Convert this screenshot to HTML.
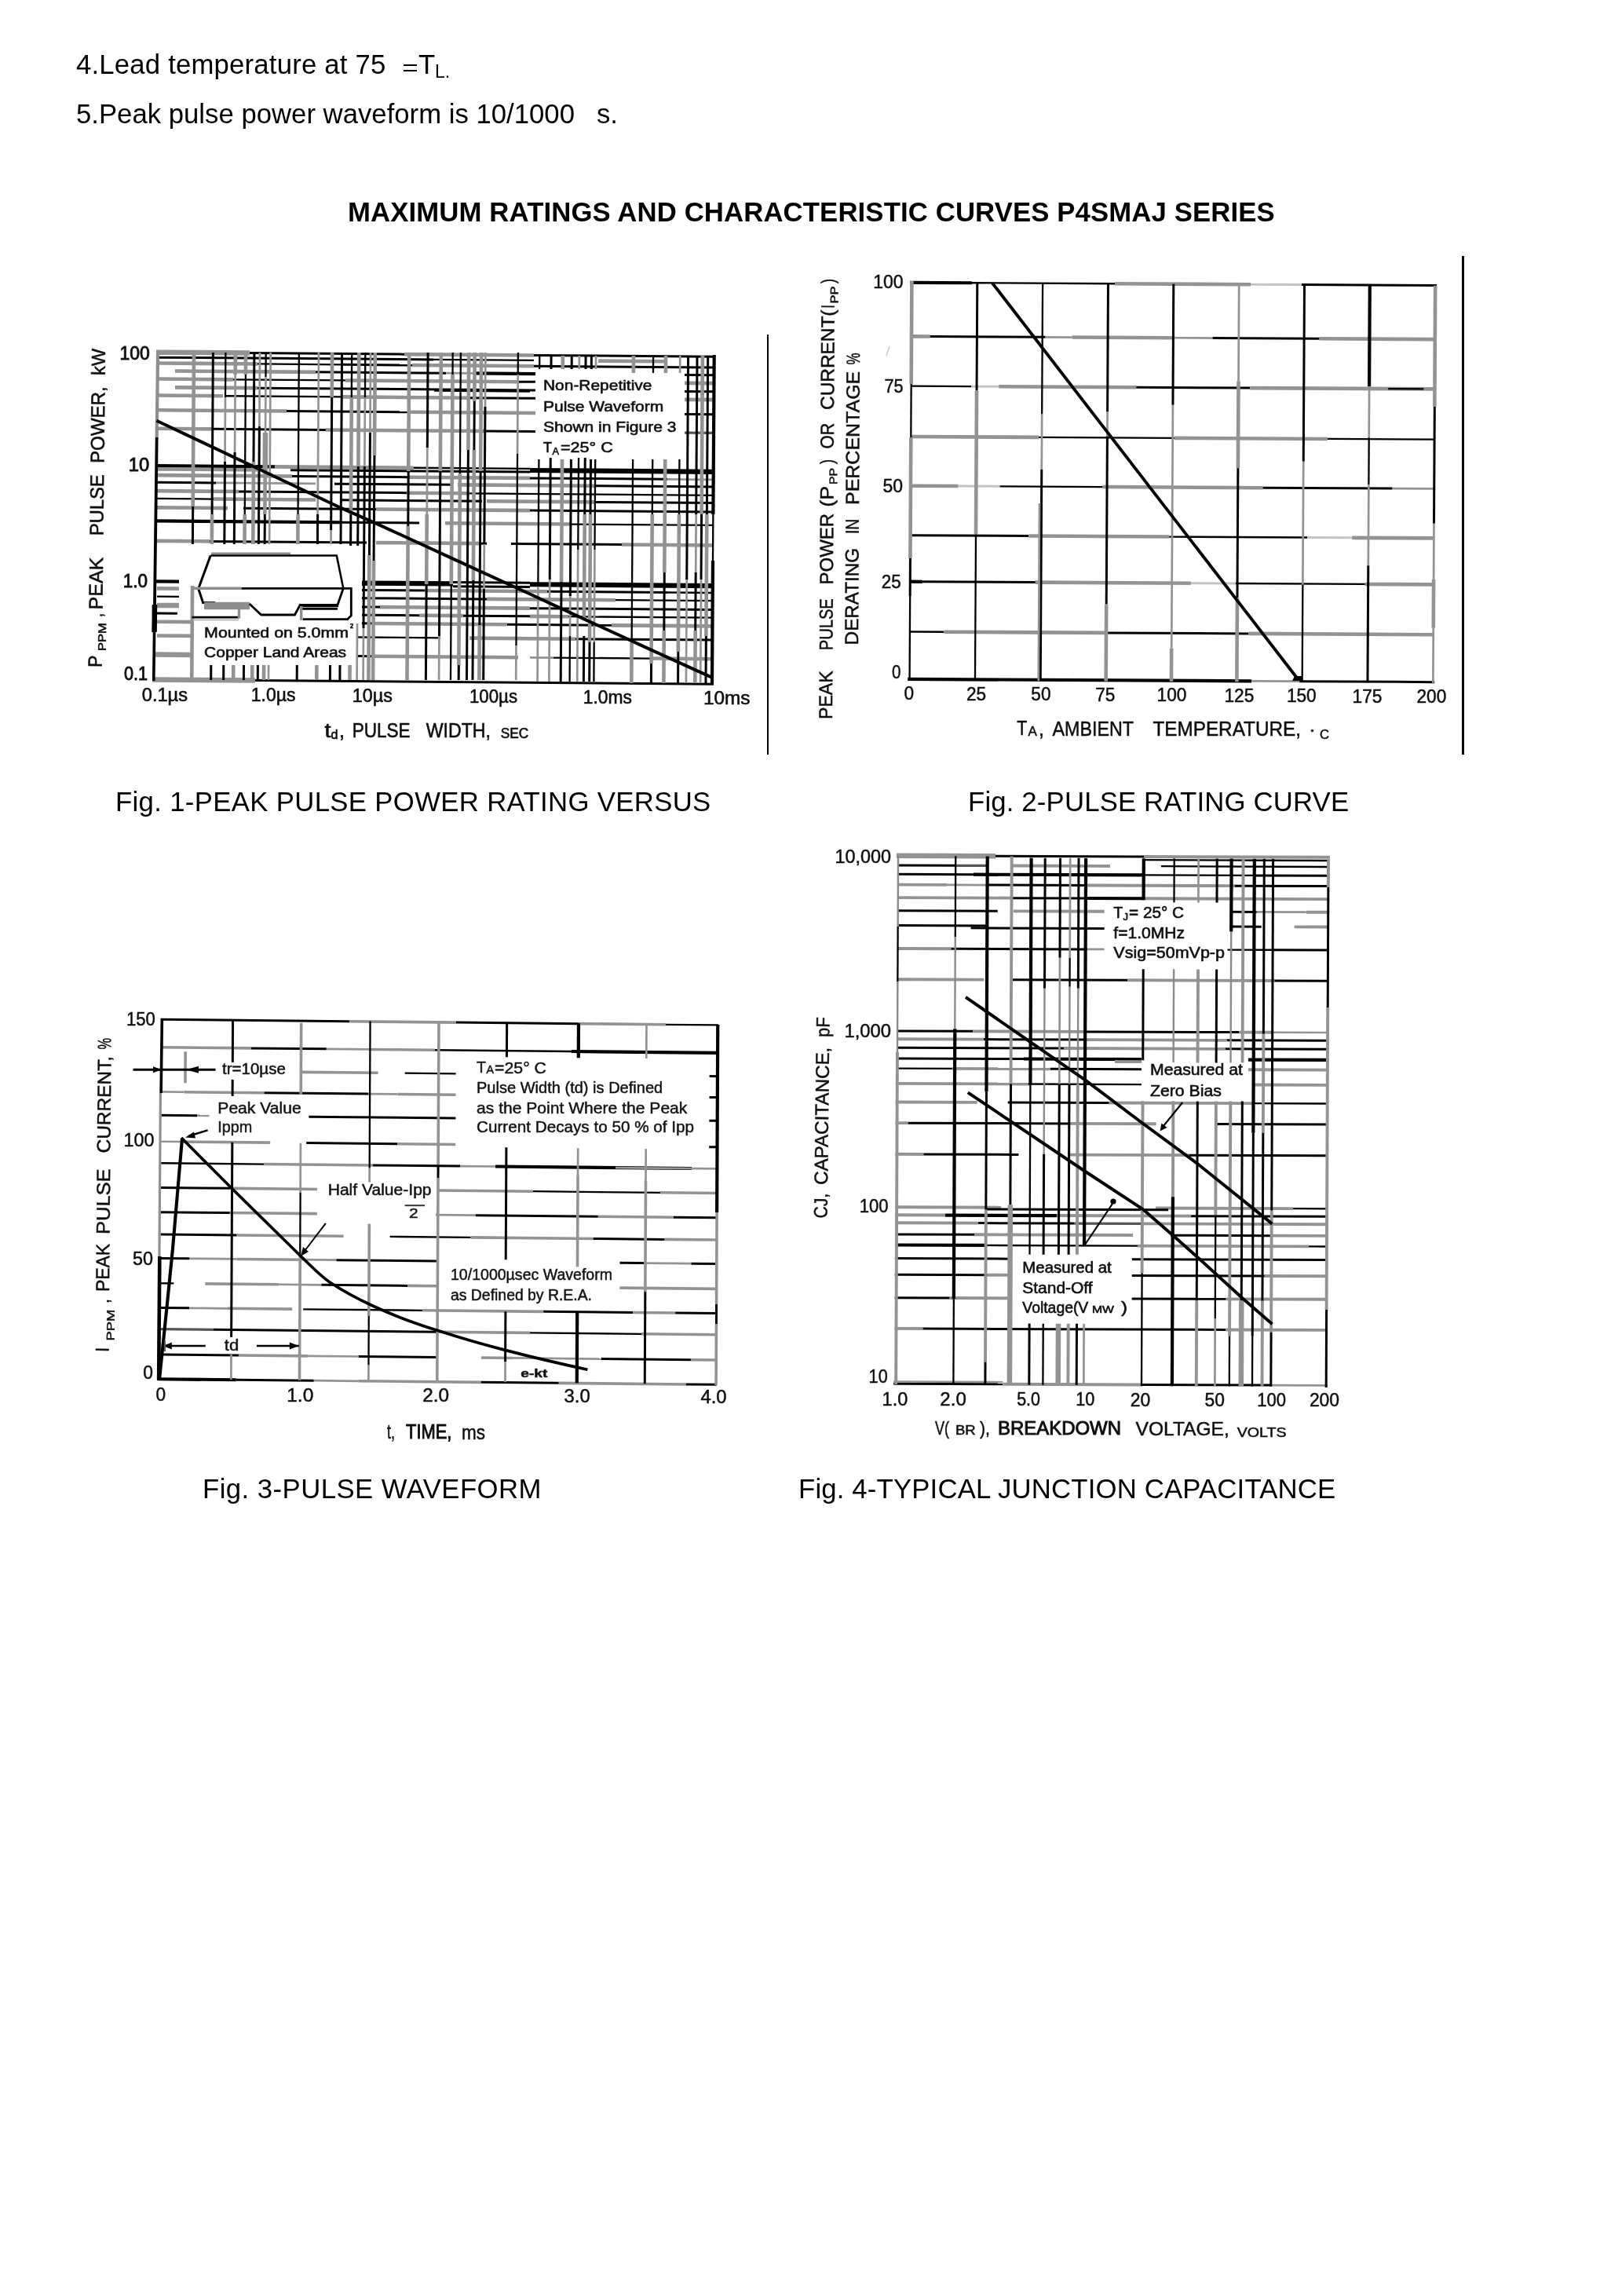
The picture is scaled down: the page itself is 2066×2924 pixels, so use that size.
<!DOCTYPE html>
<html>
<head>
<meta charset="utf-8">
<title>P4SMAJ Series - Ratings and Characteristic Curves</title>
<style>
html,body{margin:0;padding:0;background:#fff;}
body{width:2066px;height:2924px;position:relative;overflow:hidden;font-family:"Liberation Sans",sans-serif;color:#000;}
.t{position:absolute;white-space:pre;font-size:34.72px;line-height:40px;height:40px;filter:grayscale(1);}
.vl{position:absolute;background:#000;}
svg{position:absolute;left:0;top:0;overflow:visible;}
svg text{font-family:"Liberation Sans",sans-serif;fill:#111;}
</style>
</head>
<body>
<svg width="0" height="0" style="position:absolute"><defs><filter id="bt" x="-2%" y="-2%" width="104%" height="104%"><feGaussianBlur stdDeviation="0.75"/></filter></defs></svg>
<!-- notes -->
<div class="t" id="n4" style="left:97px;top:62px;letter-spacing:0.19px;">4.Lead temperature at 75</div>
<div class="t" id="n4t" style="left:533px;top:62px;">T</div>
<div class="t" id="n4l" style="left:554px;top:78px;font-size:23px;line-height:26px;height:26px;">L.</div>
<div class="vl" style="left:514px;top:82px;width:17px;height:2px;"></div>
<div class="vl" style="left:514px;top:89px;width:17px;height:2px;"></div>
<div class="t" id="n5" style="left:97px;top:125px;">5.Peak pulse power waveform is 10/1000</div>
<div class="t" id="n5s" style="left:760px;top:125px;">s.</div>
<!-- title -->
<div class="t" id="ttl" style="left:443px;top:250px;font-weight:bold;letter-spacing:0.12px;">MAXIMUM RATINGS AND CHARACTERISTIC CURVES P4SMAJ SERIES</div>
<!-- separators -->
<div class="vl" style="left:977px;top:426px;width:2px;height:535px;"></div>
<div class="vl" style="left:1862px;top:326px;width:3px;height:635px;"></div>
<!-- captions -->
<div class="t" id="c1" style="left:147px;top:1001px;letter-spacing:0.34px;">Fig. 1-PEAK PULSE POWER RATING VERSUS</div>
<div class="t" id="c2" style="left:1233px;top:1000.5px;letter-spacing:0.17px;">Fig. 2-PULSE RATING CURVE</div>
<div class="t" id="c3" style="left:258px;top:1876px;letter-spacing:0.45px;">Fig. 3-PULSE WAVEFORM</div>
<div class="t" id="c4" style="left:1017px;top:1876px;letter-spacing:0.17px;">Fig. 4-TYPICAL JUNCTION CAPACITANCE</div>

<!--FIG1-->
<svg width="2066" height="2924" viewBox="0 0 2066 2924" fill="none" stroke-linecap="butt"><g><g transform="matrix(1 0.0079 -0.0065 1 5.6 -1.5)"><path d="M196.3 448.6H315.3" stroke="#939393" stroke-width="6.5"/><path d="M315.3 448.6H512.3" stroke="#000" stroke-width="3"/><path d="M512.3 448.6H677.3" stroke="#939393" stroke-width="4.6"/><path d="M677.3 448.6H908.3" stroke="#000" stroke-width="3"/><path d="M196.3 455.1H549.3" stroke="#000" stroke-width="3"/><path d="M549.4 455.1H677.4" stroke="#000" stroke-width="2.3"/><path d="M759.4 455.1H844.4" stroke="#939393" stroke-width="4.6"/><path d="M198.4 462.4H325.4" stroke="#939393" stroke-width="4.6"/><path d="M325.4 462.4H432.4" stroke="#000" stroke-width="2.3"/><path d="M432.4 462.4H522.4" stroke="#000" stroke-width="3"/><path d="M522.4 462.4H677.4" stroke="#939393" stroke-width="4.6"/><path d="M677.4 462.4H907.4" stroke="#000" stroke-width="3"/><path d="M220.4 472.2H399.4" stroke="#939393" stroke-width="4.6"/><path d="M399.5 472.2H565.5" stroke="#000" stroke-width="3"/><path d="M565.5 472.2H601.5" stroke="#939393" stroke-width="2.7"/><path d="M601.5 472.2H679.5" stroke="#000" stroke-width="4.2"/><path d="M869.5 472.2H907.5" stroke="#000" stroke-width="3"/><path d="M198.5 482.5H294.5" stroke="#939393" stroke-width="4.6"/><path d="M294.5 482.5H437.5" stroke="#000" stroke-width="2.3"/><path d="M437.5 482.5H657.5" stroke="#939393" stroke-width="4.6"/><path d="M657.5 482.5H679.5" stroke="#000" stroke-width="3"/><path d="M869.5 482.5H907.5" stroke="#939393" stroke-width="4.6"/><path d="M220.6 493.1H325.6" stroke="#939393" stroke-width="4.6"/><path d="M325.6 493.1H679.6" stroke="#000" stroke-width="3"/><path d="M869.6 493.1H907.6" stroke="#000" stroke-width="3"/><path d="M550.6 494.8H672.6" stroke="#000" stroke-width="2.3"/><path d="M198.6 503.5H281.6" stroke="#939393" stroke-width="4.6"/><path d="M284.7 503.5H432.7" stroke="#000" stroke-width="2.3"/><path d="M432.7 503.5H595.7" stroke="#939393" stroke-width="4.6"/><path d="M593.7 503.5H679.7" stroke="#000" stroke-width="3"/><path d="M869.7 503.5H907.7" stroke="#939393" stroke-width="4.6"/><path d="M198.8 522.2H362.8" stroke="#939393" stroke-width="4.6"/><path d="M362.8 522.2H519.8" stroke="#000" stroke-width="3"/><path d="M519.8 522.2H679.8" stroke="#939393" stroke-width="4.6"/><path d="M869.8 522.2H907.8" stroke="#000" stroke-width="3"/><path d="M195.9 545.7H269.9" stroke="#939393" stroke-width="4.6"/><path d="M269.9 545.7H412.9" stroke="#000" stroke-width="3"/><path d="M412.9 545.7H615.9" stroke="#939393" stroke-width="4.6"/><path d="M615.9 545.7H679.9" stroke="#000" stroke-width="3"/><path d="M870 545.7H908" stroke="#555" stroke-width="3.2"/><path d="M197.2 593.1H348.2" stroke="#000" stroke-width="4.2"/><path d="M348.2 593.1H525.2" stroke="#939393" stroke-width="4.6"/><path d="M525.2 593.1H673.2" stroke="#000" stroke-width="2.3"/><path d="M198.3 597.3H326.3" stroke="#939393" stroke-width="4.6"/><path d="M368.3 597.3H673.3" stroke="#000" stroke-width="3"/><path d="M673.3 595.2H908.3" stroke="#000" stroke-width="6.2"/><path d="M198.3 605.1H370.3" stroke="#939393" stroke-width="4.6"/><path d="M370.3 605.1H519.3" stroke="#000" stroke-width="3"/><path d="M519.3 605.1H673.3" stroke="#939393" stroke-width="4.6"/><path d="M673.3 605.1H848.3" stroke="#000" stroke-width="3"/><path d="M848.3 605.1H908.3" stroke="#939393" stroke-width="2.7"/><path d="M198.4 614.3H273.4" stroke="#000" stroke-width="3"/><path d="M273.4 614.3H400.4" stroke="#939393" stroke-width="2.7"/><path d="M424.4 614.3H575.4" stroke="#000" stroke-width="3"/><path d="M581.4 614.3H756.4" stroke="#939393" stroke-width="4.6"/><path d="M756.4 614.3H908.4" stroke="#000" stroke-width="3"/><path d="M198.4 625.1H302.4" stroke="#939393" stroke-width="4.6"/><path d="M302.4 625.1H516.4" stroke="#000" stroke-width="3"/><path d="M516.5 625.1H596.5" stroke="#939393" stroke-width="4.6"/><path d="M596.5 625.1H908.5" stroke="#000" stroke-width="2.3"/><path d="M198.5 634.9H270.5" stroke="#000" stroke-width="2.3"/><path d="M270.5 634.9H400.5" stroke="#939393" stroke-width="4.6"/><path d="M433.5 634.9H612.5" stroke="#000" stroke-width="3"/><path d="M618.5 634.9H756.5" stroke="#939393" stroke-width="4.6"/><path d="M756.5 634.9H908.5" stroke="#000" stroke-width="3"/><path d="M198.6 646.3H288.6" stroke="#939393" stroke-width="4.6"/><path d="M308.6 646.3H477.6" stroke="#000" stroke-width="3"/><path d="M477.6 646.3H673.6" stroke="#939393" stroke-width="4.6"/><path d="M673.6 646.3H908.6" stroke="#000" stroke-width="3"/><path d="M197.7 663.3H433.7" stroke="#000" stroke-width="4.2"/><path d="M433.7 663.3H532.7" stroke="#000" stroke-width="3"/><path d="M565.7 663.3H725.7" stroke="#939393" stroke-width="4.6"/><path d="M725.7 663.3H907.7" stroke="#000" stroke-width="2.3"/><path d="M198.9 688.8H265.9" stroke="#939393" stroke-width="4.6"/><path d="M265.9 688.8H465.9" stroke="#000" stroke-width="3"/><path d="M477.9 688.8H611.9" stroke="#939393" stroke-width="4.6"/><path d="M611.9 688.8H618.9" stroke="#000" stroke-width="3"/><path d="M649.9 688.8H790.9" stroke="#000" stroke-width="3"/><path d="M790.9 688.8H907.9" stroke="#939393" stroke-width="4.6"/><path d="M198.2 740.4H227.2" stroke="#000" stroke-width="4.2"/><path d="M460.2 740.4H576.2" stroke="#000" stroke-width="6.2"/><path d="M674.2 740.4H908.2" stroke="#000" stroke-width="6.2"/><path d="M576.2 738.4H674.2" stroke="#000" stroke-width="3"/><path d="M576.2 743.6H674.2" stroke="#000" stroke-width="3"/><path d="M199.2 749.3H227.2" stroke="#939393" stroke-width="4.6"/><path d="M460.3 749.3H540.3" stroke="#000" stroke-width="3"/><path d="M540.3 749.3H696.3" stroke="#939393" stroke-width="4.6"/><path d="M696.3 749.3H849.3" stroke="#000" stroke-width="3"/><path d="M849.3 749.3H908.3" stroke="#000" stroke-width="2.3"/><path d="M199.3 759.5H227.3" stroke="#000" stroke-width="2.3"/><path d="M460.3 759.5H619.3" stroke="#000" stroke-width="3"/><path d="M619.3 759.5H783.3" stroke="#939393" stroke-width="4.6"/><path d="M783.3 759.5H908.3" stroke="#000" stroke-width="2.3"/><path d="M199.4 770.8H227.4" stroke="#939393" stroke-width="6.5"/><path d="M460.4 770.8H483.4" stroke="#000" stroke-width="3"/><path d="M483.4 770.8H674.4" stroke="#939393" stroke-width="4.6"/><path d="M674.4 770.8H908.4" stroke="#000" stroke-width="3"/><path d="M199.4 781H225.4" stroke="#000" stroke-width="3"/><path d="M460.5 781H533.5" stroke="#000" stroke-width="3"/><path d="M533.5 781H589.5" stroke="#939393" stroke-width="4.6"/><path d="M589.5 781H674.5" stroke="#000" stroke-width="3"/><path d="M674.5 781H723.5" stroke="#939393" stroke-width="4.6"/><path d="M723.5 781H908.5" stroke="#000" stroke-width="2.3"/><path d="M199.5 791.7H246.5" stroke="#939393" stroke-width="4.6"/><path d="M460.5 791.7H477.5" stroke="#000" stroke-width="3"/><path d="M477.5 791.7H645.5" stroke="#939393" stroke-width="4.6"/><path d="M645.5 791.7H778.5" stroke="#000" stroke-width="3"/><path d="M778.6 791.7H908.6" stroke="#939393" stroke-width="4.6"/><path d="M199.6 809.4H246.6" stroke="#939393" stroke-width="4.6"/><path d="M454.6 809.4H560.6" stroke="#000" stroke-width="2.3"/><path d="M597.7 809.4H732.7" stroke="#939393" stroke-width="4.6"/><path d="M732.7 809.4H908.7" stroke="#000" stroke-width="3"/><path d="M197.8 833.5H243.8" stroke="#939393" stroke-width="6.5"/><path d="M454.8 833.5H475.8" stroke="#000" stroke-width="3"/><path d="M475.8 833.5H659.8" stroke="#939393" stroke-width="4.6"/><path d="M674.8 833.5H704.8" stroke="#939393" stroke-width="2.7"/><path d="M704.8 833.5H829.8" stroke="#000" stroke-width="2.3"/><path d="M829.8 833.5H908.8" stroke="#939393" stroke-width="4.6"/><path d="M194 865.5H325" stroke="#939393" stroke-width="6.5"/><path d="M325 865.5H909" stroke="#000" stroke-width="3"/><path d="M244.3 448.6V644.6" stroke="#939393" stroke-width="4.6"/><path d="M244.3 644.6V692.6" stroke="#000" stroke-width="3"/><path d="M244.3 745.6V865.6" stroke="#939393" stroke-width="4.6"/><path d="M268.7 448.4V654.4" stroke="#000" stroke-width="3"/><path d="M268.7 654.4V692.4" stroke="#939393" stroke-width="4.6"/><path d="M268.7 846.4V865.4" stroke="#000" stroke-width="3"/><path d="M284.7 448.3V505.3" stroke="#000" stroke-width="2.3"/><path d="M284.7 505.3V587.3" stroke="#939393" stroke-width="2.7"/><path d="M284.7 587.3V692.3" stroke="#000" stroke-width="3"/><path d="M284.7 846.3V865.3" stroke="#000" stroke-width="3"/><path d="M297.2 448.2V476.2" stroke="#939393" stroke-width="4.6"/><path d="M297.2 476.2V575.2" stroke="#939393" stroke-width="2.7"/><path d="M297.2 575.2V692.2" stroke="#000" stroke-width="3"/><path d="M297.2 846.2V865.2" stroke="#939393" stroke-width="4.6"/><path d="M310.4 448.1V476.1" stroke="#939393" stroke-width="4.6"/><path d="M310.4 476.1V654.1" stroke="#000" stroke-width="2.3"/><path d="M310.4 654.1V692.1" stroke="#939393" stroke-width="4.6"/><path d="M310.4 846.1V865.1" stroke="#000" stroke-width="3"/><path d="M321.2 448V587" stroke="#000" stroke-width="3"/><path d="M321.2 587V692" stroke="#939393" stroke-width="4.6"/><path d="M321.2 846V865" stroke="#939393" stroke-width="4.6"/><path d="M328.3 448V542" stroke="#939393" stroke-width="2.7"/><path d="M328.3 542V692" stroke="#000" stroke-width="3"/><path d="M328.3 846V865" stroke="#000" stroke-width="3"/><path d="M336 447.9V478.9" stroke="#000" stroke-width="2.3"/><path d="M336 478.9V549.9" stroke="#939393" stroke-width="2.7"/><path d="M336 549.9V598.9" stroke="#939393" stroke-width="6.5"/><path d="M336 598.9V653.9" stroke="#939393" stroke-width="4.6"/><path d="M336 653.9V691.9" stroke="#000" stroke-width="3"/><path d="M336 845.9V864.9" stroke="#939393" stroke-width="4.6"/><path d="M342 447.8V691.8" stroke="#939393" stroke-width="2.7"/><path d="M342 845.8V864.8" stroke="#939393" stroke-width="2.7"/><path d="M378.2 447.6V653.6" stroke="#000" stroke-width="2.3"/><path d="M378.2 653.6V691.6" stroke="#939393" stroke-width="4.6"/><path d="M378.2 845.6V864.6" stroke="#000" stroke-width="3"/><path d="M403.3 447.4V653.4" stroke="#939393" stroke-width="2.7"/><path d="M403.3 653.4V691.4" stroke="#000" stroke-width="3"/><path d="M403.3 845.4V864.4" stroke="#939393" stroke-width="4.6"/><path d="M420.4 447.2V504.2" stroke="#939393" stroke-width="4.6"/><path d="M420.4 504.2V673.2" stroke="#000" stroke-width="3"/><path d="M420.4 673.2V691.2" stroke="#939393" stroke-width="2.7"/><path d="M420.4 845.2V864.2" stroke="#000" stroke-width="3"/><path d="M432.9 447.1V691.1" stroke="#000" stroke-width="3"/><path d="M432.9 845.1V864.1" stroke="#000" stroke-width="3"/><path d="M445.5 447V504" stroke="#000" stroke-width="2.3"/><path d="M445.5 504V653" stroke="#939393" stroke-width="4.6"/><path d="M445.5 653V693" stroke="#000" stroke-width="3"/><path d="M445.5 845V864" stroke="#939393" stroke-width="4.6"/><path d="M454.6 447V592" stroke="#939393" stroke-width="4.6"/><path d="M454.6 592V693" stroke="#000" stroke-width="3"/><path d="M454.6 792V864" stroke="#939393" stroke-width="2.7"/><path d="M462.6 446.9V503.9" stroke="#000" stroke-width="2.3"/><path d="M462.6 503.9V591.9" stroke="#939393" stroke-width="2.7"/><path d="M462.6 591.9V797.9" stroke="#000" stroke-width="3"/><path d="M462.6 797.9V863.9" stroke="#939393" stroke-width="2.7"/><path d="M469.4 446.8V548.8" stroke="#939393" stroke-width="2.7"/><path d="M469.4 548.8V704.8" stroke="#000" stroke-width="3"/><path d="M469.4 704.8V863.8" stroke="#939393" stroke-width="4.6"/><path d="M475.1 446.8V577.8" stroke="#939393" stroke-width="4.6"/><path d="M475.1 577.8V711.8" stroke="#000" stroke-width="3"/><path d="M475.1 711.8V863.8" stroke="#939393" stroke-width="4.6"/><path d="M518.5 446.4V597.4" stroke="#939393" stroke-width="4.6"/><path d="M518.5 597.4V667.4" stroke="#000" stroke-width="3"/><path d="M518.5 667.4V863.4" stroke="#939393" stroke-width="4.6"/><path d="M542.4 446.3V567.3" stroke="#000" stroke-width="3"/><path d="M542.4 567.3V652.3" stroke="#939393" stroke-width="2.7"/><path d="M542.4 652.3V741.3" stroke="#939393" stroke-width="4.6"/><path d="M542.4 741.3V863.3" stroke="#000" stroke-width="3"/><path d="M559.1 446.1V597.1" stroke="#939393" stroke-width="4.6"/><path d="M559.1 597.1V807.1" stroke="#000" stroke-width="3"/><path d="M559.1 807.1V863.1" stroke="#939393" stroke-width="2.7"/><path d="M574 446V474" stroke="#000" stroke-width="2.3"/><path d="M574 474V741" stroke="#939393" stroke-width="4.6"/><path d="M574 741V863" stroke="#000" stroke-width="2.3"/><path d="M584.2 445.9V599.9" stroke="#000" stroke-width="2.3"/><path d="M584.2 599.9V843.9" stroke="#939393" stroke-width="4.6"/><path d="M584.2 843.9V862.9" stroke="#000" stroke-width="3"/><path d="M594.5 445.8V569.8" stroke="#939393" stroke-width="4.6"/><path d="M594.5 569.8V862.8" stroke="#000" stroke-width="3"/><path d="M602 445.8V507.8" stroke="#939393" stroke-width="4.6"/><path d="M602 507.8V569.8" stroke="#000" stroke-width="3"/><path d="M602 569.8V735.8" stroke="#939393" stroke-width="4.6"/><path d="M602 735.8V862.8" stroke="#000" stroke-width="3"/><path d="M610.4 445.7V596.7" stroke="#939393" stroke-width="4.6"/><path d="M610.4 596.7V792.7" stroke="#000" stroke-width="3"/><path d="M610.4 792.7V862.7" stroke="#939393" stroke-width="4.6"/><path d="M615.7 445.7V514.7" stroke="#939393" stroke-width="2.7"/><path d="M615.7 514.7V689.7" stroke="#000" stroke-width="3"/><path d="M615.7 689.7V746.7" stroke="#939393" stroke-width="2.7"/><path d="M615.7 746.7V862.7" stroke="#000" stroke-width="3"/><path d="M657.2 445.4V473.4" stroke="#000" stroke-width="2.3"/><path d="M657.2 473.4V574.4" stroke="#939393" stroke-width="2.7"/><path d="M657.2 574.4V818.4" stroke="#000" stroke-width="2.3"/><path d="M657.2 818.4V862.4" stroke="#939393" stroke-width="2.7"/><path d="M684.6 449.1V466.1" stroke="#000" stroke-width="2.3"/><path d="M684.6 581.1V743.1" stroke="#000" stroke-width="2.3"/><path d="M684.6 743.1V864.1" stroke="#939393" stroke-width="2.7"/><path d="M699.4 449V466" stroke="#000" stroke-width="3"/><path d="M699.4 579V734" stroke="#000" stroke-width="3"/><path d="M699.4 734V864" stroke="#939393" stroke-width="2.7"/><path d="M714.2 448.9V465.9" stroke="#939393" stroke-width="4.6"/><path d="M714.2 580.9V736.9" stroke="#939393" stroke-width="4.6"/><path d="M714.2 736.9V863.9" stroke="#000" stroke-width="3"/><path d="M725.6 448.8V465.8" stroke="#000" stroke-width="3"/><path d="M725.6 580.8V754.8" stroke="#000" stroke-width="3"/><path d="M725.6 754.8V805.8" stroke="#939393" stroke-width="2.7"/><path d="M725.6 805.8V863.8" stroke="#000" stroke-width="2.3"/><path d="M735.2 448.7V465.7" stroke="#939393" stroke-width="2.7"/><path d="M735.2 578.7V695.7" stroke="#000" stroke-width="2.3"/><path d="M735.2 695.7V863.7" stroke="#939393" stroke-width="2.7"/><path d="M743.4 448.7V465.7" stroke="#000" stroke-width="3"/><path d="M743.4 578.7V650.7" stroke="#000" stroke-width="3"/><path d="M743.4 650.7V783.7" stroke="#939393" stroke-width="4.6"/><path d="M743.4 805.7V863.7" stroke="#000" stroke-width="3"/><path d="M750.7 448.6V465.6" stroke="#000" stroke-width="3"/><path d="M750.7 580.6V650.6" stroke="#000" stroke-width="3"/><path d="M750.7 650.6V813.6" stroke="#939393" stroke-width="4.6"/><path d="M750.7 813.6V863.6" stroke="#000" stroke-width="3"/><path d="M756.4 448.6V465.6" stroke="#939393" stroke-width="2.7"/><path d="M756.4 580.6V695.6" stroke="#000" stroke-width="2.3"/><path d="M756.4 695.6V813.6" stroke="#939393" stroke-width="2.7"/><path d="M756.4 813.6V863.6" stroke="#000" stroke-width="2.3"/><path d="M804.3 448.2V470.2" stroke="#939393" stroke-width="4.6"/><path d="M804.3 580.2V813.2" stroke="#000" stroke-width="2.3"/><path d="M804.3 813.2V865.2" stroke="#939393" stroke-width="4.6"/><path d="M829.4 448V470" stroke="#000" stroke-width="2.3"/><path d="M829.4 580V650" stroke="#000" stroke-width="2.3"/><path d="M829.4 650V840" stroke="#939393" stroke-width="4.6"/><path d="M829.4 840V865" stroke="#000" stroke-width="3"/><path d="M845.4 447.9V469.9" stroke="#939393" stroke-width="4.6"/><path d="M845.4 579.9V723.9" stroke="#939393" stroke-width="4.6"/><path d="M845.4 723.9V797.9" stroke="#000" stroke-width="3"/><path d="M845.4 797.9V864.9" stroke="#939393" stroke-width="4.6"/><path d="M863.6 447.7V469.7" stroke="#939393" stroke-width="2.7"/><path d="M863.6 579.7V649.7" stroke="#000" stroke-width="2.3"/><path d="M863.6 649.7V824.7" stroke="#939393" stroke-width="4.6"/><path d="M863.6 824.7V864.7" stroke="#000" stroke-width="3"/><path d="M873.9 447.6V732.6" stroke="#000" stroke-width="3"/><path d="M873.9 732.6V864.6" stroke="#939393" stroke-width="2.7"/><path d="M885.3 447.6V649.6" stroke="#000" stroke-width="3"/><path d="M885.3 649.6V723.6" stroke="#939393" stroke-width="2.7"/><path d="M885.3 723.6V797.6" stroke="#000" stroke-width="3"/><path d="M885.3 797.6V864.6" stroke="#939393" stroke-width="4.6"/><path d="M892.2 447.5V649.5" stroke="#939393" stroke-width="4.6"/><path d="M892.2 649.5V732.5" stroke="#000" stroke-width="3"/><path d="M892.2 732.5V864.5" stroke="#939393" stroke-width="2.7"/><path d="M899 447.4V649.4" stroke="#000" stroke-width="3"/><path d="M899 649.4V804.4" stroke="#939393" stroke-width="4.6"/><path d="M899 804.4V864.4" stroke="#000" stroke-width="3"/><path d="M907 446.4V649.4" stroke="#000" stroke-width="4.2"/><path d="M907 649.4V708.4" stroke="#000" stroke-width="2.3"/><path d="M907 708.4V866.4" stroke="#000" stroke-width="4.2"/><path d="M198.4 446L197.7 557" stroke="#8e8e8e" stroke-width="4.2"/><path d="M197.7 557L196.4 770" stroke="#000" stroke-width="3.8"/><path d="M196.4 770L196.2 805" stroke="#000" stroke-width="6.5"/><path d="M196.2 805L195.8 867" stroke="#000" stroke-width="3.6"/></g><path d="M199.5 535.8L435 647.2L477.9 666.1L595.5 720.1L675 756.5L756.4 794.1L830.4 828.1L906.5 862.6" stroke="#000" stroke-width="4.0" stroke-linejoin="round"/><path d="M268.2 707.5H428.8L437.3 749.3" stroke="#000" stroke-width="2.6" stroke-linejoin="miter"/><path d="M268.2 707.5L252.7 749.7L258.6 767.5H274" stroke="#000" stroke-width="3" stroke-linejoin="miter"/><path d="M269 704.8H370" stroke="#8e8e8e" stroke-width="2.4"/><path d="M244.6 749.3H307.5" stroke="#8e8e8e" stroke-width="3.6"/><path d="M307.5 749.3H447.3V784L442.7 788.6H385.7" stroke="#000" stroke-width="2.8" stroke-linejoin="miter"/><path d="M260 766.7H318V776.3H260z" fill="#8e8e8e"/><path d="M317.8 768.9L332.6 783H375.5L382.2 770.4H430L437.3 749.3" stroke="#000" stroke-width="2.8" stroke-linejoin="miter"/><path d="M382.2 770.9H431" stroke="#000" stroke-width="4"/><path d="M384 775.2H430" stroke="#000" stroke-width="3"/><path d="M244.6 786.2H304.5" stroke="#000" stroke-width="2.8"/><path d="M304.5 773.4V787.5" stroke="#8e8e8e" stroke-width="3.4"/><path d="M383.7 772V789.8" stroke="#8e8e8e" stroke-width="3.4"/><path d="M246 789.6H304" stroke="#bbb" stroke-width="2"/><g filter="url(#bt)" fill="#111" stroke="#111" stroke-width="0.9"><text x="152.5" y="458" font-size="23.5" textLength="38.3" lengthAdjust="spacingAndGlyphs">100</text><text x="163.8" y="600" font-size="23.5" textLength="26.4" lengthAdjust="spacingAndGlyphs">10</text><text x="156.7" y="747.5" font-size="23.5" textLength="31.2" lengthAdjust="spacingAndGlyphs">1.0</text><text x="158" y="865.8" font-size="23.5" textLength="30" lengthAdjust="spacingAndGlyphs">0.1</text></g><g filter="url(#bt)" fill="#111" stroke="#111" stroke-width="0.6"><text x="180.8" y="892.5" font-size="23.5" textLength="58.2" lengthAdjust="spacingAndGlyphs">0.1µs</text><text x="319.8" y="893.3" font-size="23.5" textLength="56.7" lengthAdjust="spacingAndGlyphs">1.0µs</text><text x="448.8" y="894.2" font-size="23.5" textLength="51.1" lengthAdjust="spacingAndGlyphs">10µs</text><text x="598" y="895.3" font-size="23.5" textLength="61" lengthAdjust="spacingAndGlyphs">100µs</text><text x="742.8" y="896.3" font-size="23.5" textLength="62.2" lengthAdjust="spacingAndGlyphs">1.0ms</text><text x="896" y="897.3" font-size="23.5" textLength="59.5" lengthAdjust="spacingAndGlyphs">10ms</text><text x="413.4" y="939" font-size="25" textLength="8" lengthAdjust="spacingAndGlyphs">t</text><text x="421.5" y="941" font-size="16" textLength="9" lengthAdjust="spacingAndGlyphs">d</text><text x="432" y="939" font-size="25">,</text><text x="448.8" y="939" font-size="25" textLength="73.8" lengthAdjust="spacingAndGlyphs">PULSE</text><text x="542.8" y="939.3" font-size="25" textLength="82.2" lengthAdjust="spacingAndGlyphs">WIDTH,</text><text x="637.8" y="939.5" font-size="18" textLength="35.5" lengthAdjust="spacingAndGlyphs">SEC</text><text x="129.6" y="850" font-size="24.5" textLength="15.4" lengthAdjust="spacingAndGlyphs" transform="rotate(-89.4 129.6 850)">P</text><text x="130.3" y="786" font-size="24.5" textLength="5" lengthAdjust="spacingAndGlyphs" transform="rotate(-89.4 130.3 786)">,</text><text x="130.4" y="776.4" font-size="24.5" textLength="66.6" lengthAdjust="spacingAndGlyphs" transform="rotate(-89.4 130.4 776.4)">PEAK</text><text x="131.4" y="682.3" font-size="24.5" textLength="78" lengthAdjust="spacingAndGlyphs" transform="rotate(-89.4 131.4 682.3)">PULSE</text><text x="132.5" y="590" font-size="24.5" textLength="97.7" lengthAdjust="spacingAndGlyphs" transform="rotate(-89.4 132.5 590)">POWER,</text><text x="133.7" y="478" font-size="24.5" textLength="34" lengthAdjust="spacingAndGlyphs" transform="rotate(-89.4 133.7 478)">kW</text><text x="134.7" y="829" font-size="14" textLength="35.6" lengthAdjust="spacingAndGlyphs" transform="rotate(-89.4 134.7 829)">PPM</text></g><g filter="url(#bt)" fill="#111" stroke="#111" stroke-width="0.6"><text x="692" y="497" font-size="19" textLength="138.4" lengthAdjust="spacingAndGlyphs">Non-Repetitive</text><text x="692" y="524.3" font-size="19" textLength="153.2" lengthAdjust="spacingAndGlyphs">Pulse Waveform</text><text x="692" y="550.2" font-size="19" textLength="169.4" lengthAdjust="spacingAndGlyphs">Shown in Figure 3</text><text x="692" y="576.1" font-size="19" textLength="11" lengthAdjust="spacingAndGlyphs">T</text><text x="703.5" y="578.5" font-size="13" textLength="8.5" lengthAdjust="spacingAndGlyphs">A</text><text x="714" y="576.1" font-size="19" textLength="66.8" lengthAdjust="spacingAndGlyphs">=25° C</text><text x="260.1" y="811.9" font-size="18.5" textLength="184" lengthAdjust="spacingAndGlyphs">Mounted on 5.0mm</text><text x="446" y="803" font-size="12">²</text><text x="260.1" y="837.3" font-size="18.5" textLength="181" lengthAdjust="spacingAndGlyphs">Copper Land Areas</text></g></g></svg>
<!--/FIG1-->
<!--FIG2-->
<svg width="2066" height="2924" viewBox="0 0 2066 2924" fill="none" stroke-linecap="butt"><g><g transform="rotate(0.32 1161.4 359.8)"><path d="M1159 359.8H1238" stroke="#000" stroke-width="4.2"/><path d="M1238 359.8H1420" stroke="#000" stroke-width="2.3"/><path d="M1420 359.8H1593" stroke="#939393" stroke-width="4.6"/><path d="M1593 359.8H1658" stroke="#c4c4c4" stroke-width="3"/><path d="M1658 359.8H1830" stroke="#000" stroke-width="3"/><path d="M1161 428.4H1185" stroke="#939393" stroke-width="4.6"/><path d="M1185 428.4H1332" stroke="#000" stroke-width="3"/><path d="M1332 428.4H1366" stroke="#939393" stroke-width="2.7"/><path d="M1366 428.4H1497" stroke="#939393" stroke-width="4.6"/><path d="M1497 428.4H1545" stroke="#939393" stroke-width="2.7"/><path d="M1545 428.4H1681" stroke="#000" stroke-width="3"/><path d="M1681 428.4H1828" stroke="#939393" stroke-width="4.6"/><path d="M1161 491.7H1238" stroke="#000" stroke-width="2.3"/><path d="M1238 491.7H1273" stroke="#c4c4c4" stroke-width="3"/><path d="M1273 491.7H1448" stroke="#939393" stroke-width="4.6"/><path d="M1448 491.7H1593" stroke="#000" stroke-width="3"/><path d="M1593 491.7H1828" stroke="#939393" stroke-width="4.6"/><path d="M1769 491.7H1814" stroke="#000" stroke-width="2.3"/><path d="M1161 556H1324" stroke="#939393" stroke-width="4.6"/><path d="M1324 556H1497" stroke="#000" stroke-width="2.3"/><path d="M1497 556H1692" stroke="#939393" stroke-width="4.6"/><path d="M1692 556H1828" stroke="#000" stroke-width="2.3"/><path d="M1161 618.7H1222" stroke="#939393" stroke-width="4.6"/><path d="M1222 618.7H1275" stroke="#c4c4c4" stroke-width="3"/><path d="M1275 618.7H1406" stroke="#000" stroke-width="2.3"/><path d="M1406 618.7H1610" stroke="#939393" stroke-width="4.6"/><path d="M1610 618.7H1775" stroke="#000" stroke-width="3"/><path d="M1775 618.7H1828" stroke="#939393" stroke-width="2.7"/><path d="M1161 681.7H1312" stroke="#000" stroke-width="3"/><path d="M1312 681.7H1491" stroke="#939393" stroke-width="4.6"/><path d="M1491 681.7H1667" stroke="#000" stroke-width="2.3"/><path d="M1667 681.7H1724" stroke="#c4c4c4" stroke-width="3"/><path d="M1724 681.7H1828" stroke="#939393" stroke-width="4.6"/><path d="M1161 740.7H1177" stroke="#000" stroke-width="4.2"/><path d="M1177 740.7H1321" stroke="#000" stroke-width="3"/><path d="M1321 740.7H1519" stroke="#939393" stroke-width="4.6"/><path d="M1519 740.7H1576" stroke="#c4c4c4" stroke-width="3"/><path d="M1576 740.7H1741" stroke="#000" stroke-width="2.3"/><path d="M1741 740.7H1828" stroke="#939393" stroke-width="4.6"/><path d="M1161 804.5H1205" stroke="#000" stroke-width="2.3"/><path d="M1205 804.5H1411" stroke="#939393" stroke-width="4.6"/><path d="M1411 804.5H1593" stroke="#000" stroke-width="3"/><path d="M1593 804.5H1828" stroke="#939393" stroke-width="4.6"/><path d="M1159 864.9H1597" stroke="#000" stroke-width="4.2"/><path d="M1597 864.9H1658" stroke="#939393" stroke-width="2.7"/><path d="M1658 864.9H1830" stroke="#000" stroke-width="3"/><path d="M1161.4 358V489" stroke="#939393" stroke-width="4.6"/><path d="M1161.4 489V557" stroke="#000" stroke-width="2.3"/><path d="M1161.4 557V711" stroke="#939393" stroke-width="4.6"/><path d="M1161.4 711V759" stroke="#000" stroke-width="3"/><path d="M1161.4 759V867" stroke="#000" stroke-width="2.3"/><path d="M1244.8 360V497" stroke="#000" stroke-width="3"/><path d="M1244.8 497V680" stroke="#939393" stroke-width="4.6"/><path d="M1244.8 680V866" stroke="#000" stroke-width="2.3"/><path d="M1328.1 360V526" stroke="#000" stroke-width="2.3"/><path d="M1328.1 526V597" stroke="#939393" stroke-width="2.7"/><path d="M1328.1 597V866" stroke="#000" stroke-width="3"/><path d="M1411.5 360V523" stroke="#000" stroke-width="3"/><path d="M1411.5 523V554" stroke="#939393" stroke-width="2.7"/><path d="M1411.5 554V768" stroke="#000" stroke-width="3"/><path d="M1411.5 768V866" stroke="#939393" stroke-width="4.6"/><path d="M1494.8 360V514" stroke="#000" stroke-width="3"/><path d="M1494.8 514V824" stroke="#939393" stroke-width="2.7"/><path d="M1494.8 824V866" stroke="#939393" stroke-width="4.6"/><path d="M1578.2 360V483" stroke="#939393" stroke-width="2.7"/><path d="M1578.2 483V594" stroke="#939393" stroke-width="4.6"/><path d="M1578.2 594V759" stroke="#000" stroke-width="3"/><path d="M1578.2 759V866" stroke="#939393" stroke-width="4.6"/><path d="M1661.5 360V585" stroke="#000" stroke-width="3"/><path d="M1661.5 585V742" stroke="#939393" stroke-width="2.7"/><path d="M1661.5 742V866" stroke="#000" stroke-width="2.3"/><path d="M1744.8 360V489" stroke="#000" stroke-width="4.2"/><path d="M1744.8 489V554" stroke="#939393" stroke-width="2.7"/><path d="M1744.8 554V614" stroke="#000" stroke-width="2.3"/><path d="M1744.8 614V717" stroke="#939393" stroke-width="2.7"/><path d="M1744.8 717V866" stroke="#000" stroke-width="3"/><path d="M1828.2 360V514" stroke="#939393" stroke-width="4.6"/><path d="M1828.2 514V663" stroke="#000" stroke-width="3"/><path d="M1828.2 663V734" stroke="#939393" stroke-width="2.7"/><path d="M1828.2 734V796" stroke="#939393" stroke-width="4.6"/><path d="M1828.2 796V866" stroke="#939393" stroke-width="2.7"/><path d="M1325.6 640V866" stroke="#939393" stroke-width="2.7"/></g><path d="M1264 360.5L1654 866" stroke="#000" stroke-width="3.9"/><path d="M1649 861h9v6h-12z" fill="#000"/><g filter="url(#bt)" fill="#111" stroke="#111" stroke-width="0.5"><text x="1112.3" y="366.5" font-size="23" textLength="38.3" lengthAdjust="spacingAndGlyphs">100</text><text x="1126.5" y="499.8" font-size="23" textLength="24.1" lengthAdjust="spacingAndGlyphs">75</text><text x="1124.5" y="626.5" font-size="23" textLength="25.5" lengthAdjust="spacingAndGlyphs">50</text><text x="1122.8" y="749.2" font-size="23" textLength="25" lengthAdjust="spacingAndGlyphs">25</text><text x="1136" y="864.2" font-size="23" textLength="11.5" lengthAdjust="spacingAndGlyphs">0</text><text x="1151.4" y="891" font-size="23" textLength="12.6" lengthAdjust="spacingAndGlyphs">0</text><text x="1231" y="891.5" font-size="23" textLength="25.2" lengthAdjust="spacingAndGlyphs">25</text><text x="1313.3" y="892" font-size="23" textLength="25.2" lengthAdjust="spacingAndGlyphs">50</text><text x="1395.2" y="892.5" font-size="23" textLength="25.2" lengthAdjust="spacingAndGlyphs">75</text><text x="1473.6" y="893" font-size="23" textLength="37.8" lengthAdjust="spacingAndGlyphs">100</text><text x="1559.5" y="893.5" font-size="23" textLength="37.8" lengthAdjust="spacingAndGlyphs">125</text><text x="1638.9" y="894" font-size="23" textLength="37.8" lengthAdjust="spacingAndGlyphs">150</text><text x="1722.6" y="894.5" font-size="23" textLength="37.8" lengthAdjust="spacingAndGlyphs">175</text><text x="1804.5" y="895" font-size="23" textLength="37.8" lengthAdjust="spacingAndGlyphs">200</text><text x="1295.2" y="936.4" font-size="25" textLength="13" lengthAdjust="spacingAndGlyphs">T</text><text x="1309.4" y="936.6" font-size="16" textLength="11.4" lengthAdjust="spacingAndGlyphs">A</text><text x="1323" y="936.6" font-size="25">,</text><text x="1340.6" y="936.8" font-size="25" textLength="103.5" lengthAdjust="spacingAndGlyphs">AMBIENT</text><text x="1468.4" y="937.4" font-size="25" textLength="188.6" lengthAdjust="spacingAndGlyphs">TEMPERATURE,</text><text x="1669.5" y="934" font-size="11">•</text><text x="1681" y="940.5" font-size="17" textLength="12" lengthAdjust="spacingAndGlyphs">C</text><text x="1059.9" y="916" font-size="24" textLength="61.7" lengthAdjust="spacingAndGlyphs" transform="rotate(-89.7 1059.9 916)">PEAK</text><text x="1060.4" y="828.2" font-size="24" textLength="65.9" lengthAdjust="spacingAndGlyphs" transform="rotate(-89.7 1060.4 828.2)">PULSE</text><text x="1060.9" y="744.5" font-size="24" textLength="90.6" lengthAdjust="spacingAndGlyphs" transform="rotate(-89.7 1060.9 744.5)">POWER</text><text x="1061.4" y="645.7" font-size="24" textLength="26.7" lengthAdjust="spacingAndGlyphs" transform="rotate(-89.7 1061.4 645.7)">(P</text><text x="1061.7" y="591" font-size="24" textLength="6" lengthAdjust="spacingAndGlyphs" transform="rotate(-89.7 1061.7 591)">)</text><text x="1061.8" y="571.6" font-size="24" textLength="33" lengthAdjust="spacingAndGlyphs" transform="rotate(-89.7 1061.8 571.6)">OR</text><text x="1062.1" y="522" font-size="24" textLength="127.5" lengthAdjust="spacingAndGlyphs" transform="rotate(-89.7 1062.1 522)">CURRENT(</text><text x="1062.8" y="392.5" font-size="24" textLength="4" lengthAdjust="spacingAndGlyphs" transform="rotate(-89.7 1062.8 392.5)">I</text><text x="1063" y="361" font-size="24" textLength="6" lengthAdjust="spacingAndGlyphs" transform="rotate(-89.7 1063 361)">)</text><text x="1066.2" y="617" font-size="14" textLength="21" lengthAdjust="spacingAndGlyphs" transform="rotate(-89.7 1066.2 617)">PP</text><text x="1067.5" y="386.5" font-size="14" textLength="22" lengthAdjust="spacingAndGlyphs" transform="rotate(-89.7 1067.5 386.5)">PP</text><text x="1093" y="821.4" font-size="24" textLength="123.6" lengthAdjust="spacingAndGlyphs" transform="rotate(-89.7 1093 821.4)">DERATING</text><text x="1093.8" y="680" font-size="24" textLength="19.2" lengthAdjust="spacingAndGlyphs" transform="rotate(-89.7 1093.8 680)">IN</text><text x="1094" y="643" font-size="24" textLength="170.3" lengthAdjust="spacingAndGlyphs" transform="rotate(-89.7 1094 643)">PERCENTAGE</text><text x="1095" y="464.5" font-size="24" textLength="15.1" lengthAdjust="spacingAndGlyphs" transform="rotate(-89.7 1095 464.5)">%</text></g><path d="M1133 441l-4 12" stroke="#ccc" stroke-width="1.5"/></g></svg>
<!--/FIG2-->
<!--FIG3-->
<svg width="2066" height="2924" viewBox="0 0 2066 2924" fill="none" stroke-linecap="butt"><g><g transform="matrix(1 0.01 -0.0048 1 6.2 -2.1)"><path d="M205 1298.4H445" stroke="#000" stroke-width="3"/><path d="M445 1298.4H581" stroke="#939393" stroke-width="3.6"/><path d="M581 1298.4H737" stroke="#000" stroke-width="3"/><path d="M737 1298.4H848" stroke="#939393" stroke-width="3.6"/><path d="M848 1298.4H915" stroke="#000" stroke-width="2.3"/><path d="M206 1333.8H320" stroke="#939393" stroke-width="3.6"/><path d="M320 1333.8H416" stroke="#000" stroke-width="3"/><path d="M416 1333.8H473" stroke="#939393" stroke-width="2.7"/><path d="M473 1333.8H554" stroke="#939393" stroke-width="3.6"/><path d="M554 1333.8H728" stroke="#000" stroke-width="2.3"/><path d="M728 1333.8H915" stroke="#000" stroke-width="4.2"/><path d="M384 1363.6H482" stroke="#939393" stroke-width="3.6"/><path d="M516 1363.6H581" stroke="#000" stroke-width="2.3"/><path d="M904 1363.6H915" stroke="#000" stroke-width="3"/><path d="M206 1390.5H235" stroke="#939393" stroke-width="2.7"/><path d="M235 1390.5H337" stroke="#939393" stroke-width="3.6"/><path d="M337 1390.5H470" stroke="#000" stroke-width="3"/><path d="M470 1390.5H507" stroke="#939393" stroke-width="2.7"/><path d="M507 1390.5H581" stroke="#939393" stroke-width="3.6"/><path d="M904 1390.5H915" stroke="#000" stroke-width="3"/><path d="M206 1420.3H252" stroke="#000" stroke-width="3"/><path d="M252 1420.3H267" stroke="#939393" stroke-width="2.7"/><path d="M394 1420.3H581" stroke="#000" stroke-width="3"/><path d="M904 1420.3H915" stroke="#000" stroke-width="3"/><path d="M206 1453.8H232" stroke="#939393" stroke-width="2.7"/><path d="M232 1453.8H345" stroke="#939393" stroke-width="3.6"/><path d="M391 1453.8H507" stroke="#000" stroke-width="3"/><path d="M507 1453.8H581" stroke="#939393" stroke-width="3.6"/><path d="M904 1453.8H915" stroke="#000" stroke-width="3"/><path d="M206 1481.3H337" stroke="#000" stroke-width="2.3"/><path d="M337 1481.3H476" stroke="#939393" stroke-width="3.6"/><path d="M476 1481.3H587" stroke="#000" stroke-width="3"/><path d="M587 1481.3H632" stroke="#939393" stroke-width="2.7"/><path d="M632 1481.3H882" stroke="#000" stroke-width="4.2"/><path d="M785 1481.3H915" stroke="#939393" stroke-width="2.7"/><path d="M206 1512.5H297" stroke="#000" stroke-width="3"/><path d="M297 1512.5H405" stroke="#939393" stroke-width="3.6"/><path d="M558 1512.5H680" stroke="#939393" stroke-width="3.6"/><path d="M680 1512.5H842" stroke="#000" stroke-width="2.3"/><path d="M842 1512.5H915" stroke="#939393" stroke-width="3.6"/><path d="M206 1543.7H294" stroke="#000" stroke-width="3"/><path d="M294 1543.7H405" stroke="#939393" stroke-width="3.6"/><path d="M556 1543.7H607" stroke="#939393" stroke-width="2.7"/><path d="M607 1543.7H763" stroke="#000" stroke-width="3"/><path d="M763 1543.7H859" stroke="#939393" stroke-width="3.6"/><path d="M859 1543.7H915" stroke="#000" stroke-width="3"/><path d="M206 1572H303" stroke="#000" stroke-width="3"/><path d="M303 1572H439" stroke="#939393" stroke-width="3.6"/><path d="M498 1572H601" stroke="#000" stroke-width="2.3"/><path d="M601 1572H757" stroke="#939393" stroke-width="3.6"/><path d="M757 1572H848" stroke="#000" stroke-width="3"/><path d="M848 1572H915" stroke="#939393" stroke-width="3.6"/><path d="M206 1602.5H243" stroke="#000" stroke-width="3"/><path d="M243 1602.5H303" stroke="#939393" stroke-width="2.7"/><path d="M303 1602.5H382" stroke="#939393" stroke-width="3.6"/><path d="M382 1602.5H430" stroke="#939393" stroke-width="2.7"/><path d="M430 1602.5H558" stroke="#000" stroke-width="3"/><path d="M791 1602.5H822" stroke="#000" stroke-width="3"/><path d="M822 1602.5H882" stroke="#939393" stroke-width="2.7"/><path d="M882 1602.5H915" stroke="#000" stroke-width="3"/><path d="M206 1634.3H223" stroke="#000" stroke-width="2.3"/><path d="M263 1634.3H357" stroke="#939393" stroke-width="3.6"/><path d="M357 1634.3H411" stroke="#939393" stroke-width="2.7"/><path d="M411 1634.3H521" stroke="#000" stroke-width="3"/><path d="M521 1634.3H560" stroke="#939393" stroke-width="3.6"/><path d="M791 1634.3H915" stroke="#939393" stroke-width="3.6"/><path d="M206 1665.5H243" stroke="#000" stroke-width="3"/><path d="M243 1665.5H291" stroke="#939393" stroke-width="2.7"/><path d="M291 1665.5H374" stroke="#939393" stroke-width="3.6"/><path d="M388 1665.5H540" stroke="#000" stroke-width="2.3"/><path d="M540 1665.5H694" stroke="#939393" stroke-width="3.6"/><path d="M694 1665.5H808" stroke="#000" stroke-width="3"/><path d="M808 1665.5H862" stroke="#939393" stroke-width="3.6"/><path d="M862 1665.5H915" stroke="#000" stroke-width="3"/><path d="M206 1692.7H274" stroke="#555" stroke-width="3.2"/><path d="M274 1692.7H558" stroke="#000" stroke-width="3"/><path d="M558 1692.7H677" stroke="#939393" stroke-width="3.6"/><path d="M677 1692.7H819" stroke="#000" stroke-width="2.3"/><path d="M819 1692.7H915" stroke="#939393" stroke-width="3.6"/><path d="M206 1725H306" stroke="#000" stroke-width="3"/><path d="M306 1725H394" stroke="#939393" stroke-width="3.6"/><path d="M394 1725H459" stroke="#939393" stroke-width="2.7"/><path d="M459 1725H558" stroke="#000" stroke-width="3"/><path d="M615 1725H655" stroke="#939393" stroke-width="3.6"/><path d="M655 1725H768" stroke="#939393" stroke-width="2.7"/><path d="M768 1725H882" stroke="#000" stroke-width="3"/><path d="M882 1725H915" stroke="#939393" stroke-width="3.6"/><path d="M203 1756.3H303" stroke="#000" stroke-width="4.2"/><path d="M303 1756.3H402" stroke="#000" stroke-width="3"/><path d="M402 1756.3H459" stroke="#939393" stroke-width="2.7"/><path d="M459 1756.3H615" stroke="#939393" stroke-width="3.6"/><path d="M615 1756.3H714" stroke="#000" stroke-width="3"/><path d="M714 1756.3H876" stroke="#939393" stroke-width="3.6"/><path d="M876 1756.3H915" stroke="#000" stroke-width="3"/><path d="M296.6 1298V1352" stroke="#000" stroke-width="3"/><path d="M296.6 1374V1395" stroke="#000" stroke-width="3"/><path d="M296.6 1454V1702" stroke="#000" stroke-width="3"/><path d="M296.6 1724V1756" stroke="#939393" stroke-width="2.7"/><path d="M383.7 1301V1392" stroke="#939393" stroke-width="3.6"/><path d="M383.7 1454V1517" stroke="#939393" stroke-width="2.7"/><path d="M383.7 1517V1597" stroke="#000" stroke-width="2.3"/><path d="M383.7 1597V1756" stroke="#939393" stroke-width="3.6"/><path d="M471.6 1298V1485" stroke="#000" stroke-width="2.3"/><path d="M471.6 1485V1503" stroke="#939393" stroke-width="2.7"/><path d="M471.6 1556V1673" stroke="#939393" stroke-width="3.6"/><path d="M471.6 1673V1736" stroke="#000" stroke-width="2.3"/><path d="M471.6 1736V1756" stroke="#939393" stroke-width="2.7"/><path d="M559 1298V1480" stroke="#939393" stroke-width="3.6"/><path d="M559 1480V1497" stroke="#000" stroke-width="3"/><path d="M559 1497V1756" stroke="#939393" stroke-width="3.6"/><path d="M645.7 1298V1342" stroke="#000" stroke-width="3"/><path d="M645.7 1457V1600" stroke="#000" stroke-width="3"/><path d="M645.7 1666V1730" stroke="#000" stroke-width="3"/><path d="M645.7 1730V1756" stroke="#939393" stroke-width="2.7"/><path d="M737 1298V1342" stroke="#000" stroke-width="4.2"/><path d="M737 1457V1491" stroke="#939393" stroke-width="2.7"/><path d="M737 1491V1608" stroke="#939393" stroke-width="3.6"/><path d="M737 1666V1756" stroke="#000" stroke-width="4.2"/><path d="M823.5 1298V1342" stroke="#939393" stroke-width="2.7"/><path d="M823.5 1457V1497" stroke="#939393" stroke-width="2.7"/><path d="M823.5 1497V1639" stroke="#939393" stroke-width="3.6"/><path d="M823.5 1639V1756" stroke="#000" stroke-width="3"/><path d="M914.3 1298V1537" stroke="#000" stroke-width="4.2"/><path d="M914.3 1537V1654" stroke="#939393" stroke-width="3.6"/><path d="M914.3 1654V1679" stroke="#000" stroke-width="3"/><path d="M914.3 1679V1757" stroke="#939393" stroke-width="3.6"/><path d="M206.4 1297L205.6 1392" stroke="#000" stroke-width="3.6"/><path d="M204.9 1392L204.4 1600" stroke="#909090" stroke-width="3.2"/><path d="M204.8 1600L204.4 1758" stroke="#000" stroke-width="4.6"/><path d="M236.4 1339V1379" stroke="#939393" stroke-width="3.6"/></g><path d="M203 1757L213 1660L220 1590L232 1450" stroke="#000" stroke-width="4.1" stroke-linejoin="miter"/><path d="M231 1449L294.3 1512.5L382.3 1599C395 1611 405 1622 419 1632.3C438 1645 455 1654 475.9 1663.5C505 1677 530 1686 561 1695.5C590 1705 615 1712 643.4 1719.4C680 1729 715 1737 748.4 1744.3" stroke="#000" stroke-width="3.7" stroke-linejoin="round"/><path d="M169.6 1362.2H274.5" stroke="#000" stroke-width="3"/><path d="M206 1362.2l-11 -4v8z M237 1362.2l16 -4.5v9z" fill="#000"/><path d="M264.6 1439.3L240 1447" stroke="#000" stroke-width="2.4"/><path d="M236 1448.5l11 -7 2 8z" fill="#000"/><path d="M414.9 1557.9L385 1597" stroke="#000" stroke-width="2"/><path d="M383 1600l3 -12 7 6z" fill="#000"/><path d="M515.6 1535.2H541" stroke="#333" stroke-width="2"/><path d="M207.8 1714H261.7M327 1714H380.8" stroke="#000" stroke-width="2.6"/><path d="M207.8 1714l11 -4.5v9z M380.8 1714l-12 -4.5v9z" fill="#000"/><path d="M210 1707v14" stroke="#555" stroke-width="2"/><g filter="url(#bt)" fill="#111" stroke="#111" stroke-width="0.5"><text x="161" y="1306.3" font-size="23" textLength="36.9" lengthAdjust="spacingAndGlyphs">150</text><text x="157.6" y="1459.5" font-size="23" textLength="38.9" lengthAdjust="spacingAndGlyphs">100</text><text x="169" y="1611" font-size="23" textLength="26" lengthAdjust="spacingAndGlyphs">50</text><text x="182.3" y="1755.7" font-size="23" textLength="12.7" lengthAdjust="spacingAndGlyphs">0</text><text x="198.5" y="1784" font-size="23" textLength="12.6" lengthAdjust="spacingAndGlyphs">0</text><text x="365.2" y="1784.6" font-size="23" textLength="34.1" lengthAdjust="spacingAndGlyphs">1.0</text><text x="538.2" y="1785.4" font-size="23" textLength="33.8" lengthAdjust="spacingAndGlyphs">2.0</text><text x="718.6" y="1786.2" font-size="23" textLength="33.2" lengthAdjust="spacingAndGlyphs">3.0</text><text x="892.5" y="1786.9" font-size="23" textLength="33.1" lengthAdjust="spacingAndGlyphs">4.0</text><text x="492.9" y="1832" font-size="25" textLength="10" lengthAdjust="spacingAndGlyphs">t,</text><text x="517" y="1832.2" font-size="25" textLength="58.4" lengthAdjust="spacingAndGlyphs" stroke-width="0.95">TIME,</text><text x="588" y="1832.5" font-size="25" textLength="30" lengthAdjust="spacingAndGlyphs">ms</text></g><g filter="url(#bt)" fill="#1a1a1a" stroke="#1a1a1a" stroke-width="0.5"><text x="283" y="1367.8" font-size="20" textLength="80.8" lengthAdjust="spacingAndGlyphs">tr=10µse</text><text x="277.3" y="1417.5" font-size="20" textLength="106.4" lengthAdjust="spacingAndGlyphs">Peak Value</text><text x="277.3" y="1441.6" font-size="20" textLength="44" lengthAdjust="spacingAndGlyphs">Ippm</text><text x="417.7" y="1522.4" font-size="20" textLength="131.9" lengthAdjust="spacingAndGlyphs">Half Value-Ipp</text><text x="521" y="1550.8" font-size="17" textLength="11.6" lengthAdjust="spacingAndGlyphs">2</text><text x="285.8" y="1720.2" font-size="20" textLength="18.5" lengthAdjust="spacingAndGlyphs">td</text><text x="663.3" y="1754.3" font-size="15.5" textLength="34" lengthAdjust="spacingAndGlyphs" font-weight="bold">e-kt</text><text x="607.1" y="1366.4" font-size="21" textLength="12" lengthAdjust="spacingAndGlyphs">T</text><text x="619.5" y="1366.6" font-size="15" textLength="9.5" lengthAdjust="spacingAndGlyphs">A</text><text x="630" y="1366.8" font-size="21" textLength="66" lengthAdjust="spacingAndGlyphs">=25° C</text><text x="607" y="1392" font-size="21" textLength="237.2" lengthAdjust="spacingAndGlyphs">Pulse Width (td) is Defined</text><text x="607" y="1417.5" font-size="21" textLength="268.4" lengthAdjust="spacingAndGlyphs">as the Point Where the Peak</text><text x="607" y="1442.4" font-size="21" textLength="277" lengthAdjust="spacingAndGlyphs">Current Decays to 50 % of Ipp</text><text x="574" y="1629.5" font-size="20" textLength="206" lengthAdjust="spacingAndGlyphs">10/1000µsec Waveform</text><text x="574" y="1655.9" font-size="20" textLength="180" lengthAdjust="spacingAndGlyphs">as Defined by R.E.A.</text></g><g filter="url(#bt)" fill="#111" stroke="#111" stroke-width="0.5"><text x="138.9" y="1645" font-size="24" textLength="61" lengthAdjust="spacingAndGlyphs" transform="rotate(-89.5 138.9 1645)">PEAK</text><text x="139.5" y="1572" font-size="24" textLength="83.6" lengthAdjust="spacingAndGlyphs" transform="rotate(-89.5 139.5 1572)">PULSE</text><text x="140.3" y="1468.5" font-size="24" textLength="123.5" lengthAdjust="spacingAndGlyphs" transform="rotate(-89.5 140.3 1468.5)">CURRENT,</text><text x="141.3" y="1336.6" font-size="24" textLength="14.6" lengthAdjust="spacingAndGlyphs" transform="rotate(-89.5 141.3 1336.6)">%</text><text x="138.4" y="1722" font-size="24" textLength="6" lengthAdjust="spacingAndGlyphs" transform="rotate(-89.5 138.4 1722)">I</text><text x="145.6" y="1707.5" font-size="14" textLength="39.7" lengthAdjust="spacingAndGlyphs" transform="rotate(-89.5 145.6 1707.5)">PPM</text><text x="138.8" y="1660" font-size="24" textLength="6" lengthAdjust="spacingAndGlyphs" transform="rotate(-89.5 138.8 1660)">,</text></g></g></svg>
<!--/FIG3-->
<!--FIG4-->
<svg width="2066" height="2924" viewBox="0 0 2066 2924" fill="none" stroke-linecap="butt"><g><g transform="matrix(1 0.0036 -0.0042 1 4.6 -4.1)"><path d="M1142 1089.8H1268" stroke="#939393" stroke-width="6.5"/><path d="M1268 1089.8H1457" stroke="#000" stroke-width="3"/><path d="M1457 1089.8H1694" stroke="#939393" stroke-width="3.9"/><path d="M1144 1102H1217" stroke="#000" stroke-width="3"/><path d="M1217 1102H1257" stroke="#555" stroke-width="3.2"/><path d="M1289 1102H1387" stroke="#939393" stroke-width="3.9"/><path d="M1387 1102H1414" stroke="#939393" stroke-width="3.9"/><path d="M1479 1102H1692" stroke="#000" stroke-width="2.3"/><path d="M1144 1113.3H1240" stroke="#000" stroke-width="3"/><path d="M1240 1113.3H1455" stroke="#000" stroke-width="4.2"/><path d="M1455 1113.3H1596" stroke="#000" stroke-width="2.3"/><path d="M1596 1113.3H1692" stroke="#000" stroke-width="3"/><path d="M1144 1126.6H1206" stroke="#939393" stroke-width="3.9"/><path d="M1206 1126.6H1257" stroke="#939393" stroke-width="2.7"/><path d="M1257 1126.6H1385" stroke="#000" stroke-width="3"/><path d="M1385 1126.6H1573" stroke="#939393" stroke-width="3.9"/><path d="M1573 1126.6H1692" stroke="#000" stroke-width="3"/><path d="M1144 1143.1H1288" stroke="#939393" stroke-width="3.9"/><path d="M1288 1143.1H1385" stroke="#000" stroke-width="3"/><path d="M1385 1143.1H1457" stroke="#000" stroke-width="4.2"/><path d="M1457 1143.1H1692" stroke="#939393" stroke-width="3.9"/><path d="M1144 1159.8H1271" stroke="#000" stroke-width="3"/><path d="M1291 1159.8H1407" stroke="#939393" stroke-width="3.9"/><path d="M1569 1159.8H1601" stroke="#000" stroke-width="3"/><path d="M1601 1159.8H1664" stroke="#939393" stroke-width="2.7"/><path d="M1664 1159.8H1692" stroke="#939393" stroke-width="3.9"/><path d="M1144 1178.5H1257" stroke="#000" stroke-width="3"/><path d="M1567 1178.5H1607" stroke="#000" stroke-width="3"/><path d="M1649 1178.5H1692" stroke="#939393" stroke-width="3.9"/><path d="M1144 1208H1212" stroke="#939393" stroke-width="3.9"/><path d="M1212 1208H1385" stroke="#000" stroke-width="3"/><path d="M1385 1208H1407" stroke="#939393" stroke-width="2.7"/><path d="M1564 1208H1621" stroke="#000" stroke-width="2.3"/><path d="M1621 1208H1692" stroke="#000" stroke-width="3"/><path d="M1144 1247.2H1254" stroke="#939393" stroke-width="3.9"/><path d="M1288 1247.2H1437" stroke="#000" stroke-width="3"/><path d="M1437 1247.2H1624" stroke="#939393" stroke-width="3.9"/><path d="M1624 1247.2H1692" stroke="#000" stroke-width="3"/><path d="M1144 1313H1240" stroke="#000" stroke-width="3"/><path d="M1240 1313H1385" stroke="#939393" stroke-width="3.9"/><path d="M1385 1313H1579" stroke="#000" stroke-width="3"/><path d="M1579 1313H1621" stroke="#939393" stroke-width="3.9"/><path d="M1621 1313H1692" stroke="#939393" stroke-width="2.7"/><path d="M1144 1323.2H1254" stroke="#939393" stroke-width="3.9"/><path d="M1254 1323.2H1385" stroke="#000" stroke-width="3"/><path d="M1385 1323.2H1564" stroke="#939393" stroke-width="3.9"/><path d="M1564 1323.2H1692" stroke="#000" stroke-width="3"/><path d="M1144 1334.2H1356" stroke="#000" stroke-width="3"/><path d="M1356 1334.2H1562" stroke="#939393" stroke-width="3.9"/><path d="M1562 1334.2H1692" stroke="#000" stroke-width="3"/><path d="M1144 1347.9H1305" stroke="#000" stroke-width="3"/><path d="M1305 1347.9H1455" stroke="#000" stroke-width="4.2"/><path d="M1591 1347.9H1692" stroke="#000" stroke-width="4.2"/><path d="M1144 1360.6H1214" stroke="#000" stroke-width="2.3"/><path d="M1214 1360.6H1339" stroke="#939393" stroke-width="3.9"/><path d="M1339 1360.6H1455" stroke="#000" stroke-width="3"/><path d="M1591 1360.6H1692" stroke="#939393" stroke-width="3.9"/><path d="M1142 1379.9H1314" stroke="#939393" stroke-width="3.9"/><path d="M1311 1379.9H1455" stroke="#000" stroke-width="2.3"/><path d="M1598 1379.9H1692" stroke="#939393" stroke-width="3.9"/><path d="M1142 1403.5H1246" stroke="#939393" stroke-width="3.9"/><path d="M1285 1403.5H1414" stroke="#000" stroke-width="3"/><path d="M1414 1403.5H1598" stroke="#939393" stroke-width="3.9"/><path d="M1598 1403.5H1692" stroke="#000" stroke-width="2.3"/><path d="M1142 1430.1H1158" stroke="#939393" stroke-width="3.9"/><path d="M1158 1430.1H1365" stroke="#000" stroke-width="3"/><path d="M1365 1430.1H1474" stroke="#939393" stroke-width="3.9"/><path d="M1550 1430.1H1692" stroke="#000" stroke-width="3"/><path d="M1142 1469.8H1178" stroke="#939393" stroke-width="3.9"/><path d="M1178 1469.8H1299" stroke="#000" stroke-width="3"/><path d="M1362 1469.8H1516" stroke="#939393" stroke-width="3.9"/><path d="M1516 1469.8H1692" stroke="#000" stroke-width="3"/><path d="M1142 1537.3H1277" stroke="#939393" stroke-width="3.9"/><path d="M1474 1537.3H1649" stroke="#939393" stroke-width="3.9"/><path d="M1649 1537.3H1692" stroke="#000" stroke-width="2.3"/><path d="M1142 1547.3H1206" stroke="#939393" stroke-width="3.9"/><path d="M1206 1547.3H1348" stroke="#000" stroke-width="4.2"/><path d="M1348 1547.3H1519" stroke="#939393" stroke-width="3.9"/><path d="M1519 1547.3H1692" stroke="#000" stroke-width="3"/><path d="M1142 1557.2H1248" stroke="#939393" stroke-width="3.9"/><path d="M1248 1557.2H1370" stroke="#000" stroke-width="3"/><path d="M1370 1557.2H1457" stroke="#555" stroke-width="3.2"/><path d="M1457 1557.2H1692" stroke="#939393" stroke-width="3.9"/><path d="M1142 1571.9H1243" stroke="#000" stroke-width="3"/><path d="M1243 1571.9H1445" stroke="#939393" stroke-width="3.9"/><path d="M1493 1571.9H1621" stroke="#000" stroke-width="3"/><path d="M1621 1571.9H1692" stroke="#939393" stroke-width="3.9"/><path d="M1142 1585.5H1257" stroke="#000" stroke-width="4.2"/><path d="M1257 1585.5H1451" stroke="#000" stroke-width="2.3"/><path d="M1451 1585.5H1669" stroke="#939393" stroke-width="3.9"/><path d="M1669 1585.5H1692" stroke="#000" stroke-width="2.3"/><path d="M1142 1602.6H1291" stroke="#000" stroke-width="3"/><path d="M1444 1602.6H1692" stroke="#000" stroke-width="3"/><path d="M1142 1623.3H1260" stroke="#000" stroke-width="3"/><path d="M1260 1623.3H1291" stroke="#939393" stroke-width="3.9"/><path d="M1444 1623.3H1613" stroke="#000" stroke-width="3"/><path d="M1613 1623.3H1692" stroke="#939393" stroke-width="3.9"/><path d="M1142 1652.8H1212" stroke="#000" stroke-width="3"/><path d="M1212 1652.8H1291" stroke="#939393" stroke-width="3.9"/><path d="M1444 1652.8H1564" stroke="#000" stroke-width="3"/><path d="M1564 1652.8H1692" stroke="#939393" stroke-width="3.9"/><path d="M1142 1691.9H1178" stroke="#939393" stroke-width="3.9"/><path d="M1178 1691.9H1564" stroke="#000" stroke-width="3"/><path d="M1564 1691.9H1692" stroke="#939393" stroke-width="3.9"/><path d="M1141 1762.3H1280" stroke="#000" stroke-width="3"/><path d="M1280 1762.3H1457" stroke="#939393" stroke-width="3.9"/><path d="M1457 1762.3H1621" stroke="#000" stroke-width="3"/><path d="M1621 1762.3H1694" stroke="#939393" stroke-width="2.7"/><path d="M1457 1094H1692" stroke="#000" stroke-width="2.3"/><path d="M1237 1181.5H1407" stroke="#000" stroke-width="3"/><path d="M1257 1539.5H1490" stroke="#000" stroke-width="3"/><path d="M1421 1351H1455" stroke="#939393" stroke-width="3.9"/><path d="M1141 1759.5H1280" stroke="#939393" stroke-width="2.7"/><path d="M1144 1090V1180" stroke="#8a8a8a" stroke-width="2.4"/><path d="M1144 1180V1250" stroke="#000" stroke-width="2.3"/><path d="M1144 1250V1340" stroke="#8a8a8a" stroke-width="2.4"/><path d="M1144 1340V1763" stroke="#939393" stroke-width="3.9"/><path d="M1217.2 1090V1193" stroke="#000" stroke-width="2.3"/><path d="M1217.2 1193V1310" stroke="#8a8a8a" stroke-width="2.4"/><path d="M1217.2 1310V1654" stroke="#000" stroke-width="4.2"/><path d="M1217.2 1654V1763" stroke="#000" stroke-width="2.3"/><path d="M1257.7 1090V1390" stroke="#000" stroke-width="4.2"/><path d="M1257.7 1390V1540" stroke="#000" stroke-width="3"/><path d="M1257.7 1540V1734" stroke="#939393" stroke-width="3.9"/><path d="M1257.7 1734V1763" stroke="#000" stroke-width="3"/><path d="M1288.7 1090V1380" stroke="#939393" stroke-width="3.9"/><path d="M1288.7 1380V1534" stroke="#000" stroke-width="3"/><path d="M1288.7 1534V1763" stroke="#939393" stroke-width="6.5"/><path d="M1313.6 1092V1380" stroke="#000" stroke-width="4.2"/><path d="M1313.6 1380V1597" stroke="#000" stroke-width="2.3"/><path d="M1313.6 1685V1763" stroke="#000" stroke-width="3"/><path d="M1331.2 1092V1258" stroke="#000" stroke-width="3"/><path d="M1331.2 1258V1469" stroke="#8a8a8a" stroke-width="2.4"/><path d="M1331.2 1469V1597" stroke="#000" stroke-width="3"/><path d="M1331.2 1685V1763" stroke="#000" stroke-width="2.3"/><path d="M1350.5 1092V1219" stroke="#000" stroke-width="3"/><path d="M1350.5 1219V1380" stroke="#939393" stroke-width="2.7"/><path d="M1350.5 1380V1597" stroke="#000" stroke-width="3"/><path d="M1350.5 1685V1763" stroke="#939393" stroke-width="6.5"/><path d="M1363.2 1092V1219" stroke="#939393" stroke-width="2.7"/><path d="M1363.2 1219V1256" stroke="#000" stroke-width="2.3"/><path d="M1363.2 1256V1380" stroke="#8a8a8a" stroke-width="2.4"/><path d="M1363.2 1380V1597" stroke="#000" stroke-width="3"/><path d="M1363.2 1685V1763" stroke="#939393" stroke-width="3.9"/><path d="M1374 1092V1258" stroke="#000" stroke-width="3"/><path d="M1374 1258V1380" stroke="#8a8a8a" stroke-width="2.4"/><path d="M1374 1380V1597" stroke="#939393" stroke-width="3.9"/><path d="M1374 1685V1763" stroke="#000" stroke-width="3"/><path d="M1383.1 1092V1585" stroke="#000" stroke-width="4.2"/><path d="M1383.1 1685V1763" stroke="#939393" stroke-width="2.7"/><path d="M1456.8 1092V1145" stroke="#000" stroke-width="4.2"/><path d="M1456.8 1233V1349" stroke="#000" stroke-width="3"/><path d="M1456.8 1401V1620" stroke="#939393" stroke-width="3.9"/><path d="M1456.8 1620V1764" stroke="#000" stroke-width="2.3"/><path d="M1495.7 1092V1148" stroke="#000" stroke-width="2.3"/><path d="M1495.7 1233V1352" stroke="#8a8a8a" stroke-width="2.4"/><path d="M1495.7 1401V1523" stroke="#939393" stroke-width="3.9"/><path d="M1495.7 1523V1764" stroke="#000" stroke-width="4.2"/><path d="M1526.6 1092V1148" stroke="#939393" stroke-width="2.7"/><path d="M1526.6 1233V1352" stroke="#939393" stroke-width="3.9"/><path d="M1526.6 1401V1655" stroke="#000" stroke-width="3"/><path d="M1526.6 1655V1764" stroke="#939393" stroke-width="3.9"/><path d="M1550.2 1092V1148" stroke="#000" stroke-width="3"/><path d="M1550.2 1233V1352" stroke="#000" stroke-width="3"/><path d="M1550.2 1401V1546" stroke="#939393" stroke-width="3.9"/><path d="M1550.2 1546V1678" stroke="#000" stroke-width="2.3"/><path d="M1550.2 1678V1764" stroke="#939393" stroke-width="2.7"/><path d="M1568.6 1092V1185" stroke="#000" stroke-width="4.2"/><path d="M1568.6 1185V1352" stroke="#8a8a8a" stroke-width="2.4"/><path d="M1568.6 1401V1700" stroke="#939393" stroke-width="3.9"/><path d="M1568.6 1700V1764" stroke="#000" stroke-width="2.3"/><path d="M1583.6 1092V1352" stroke="#939393" stroke-width="3.9"/><path d="M1583.6 1401V1655" stroke="#000" stroke-width="3"/><path d="M1583.6 1655V1764" stroke="#939393" stroke-width="6.5"/><path d="M1597.8 1092V1441" stroke="#000" stroke-width="4.2"/><path d="M1597.8 1441V1700" stroke="#000" stroke-width="3"/><path d="M1597.8 1700V1764" stroke="#000" stroke-width="2.3"/><path d="M1610.3 1092V1315" stroke="#000" stroke-width="3"/><path d="M1610.3 1315V1441" stroke="#939393" stroke-width="3.9"/><path d="M1610.3 1441V1655" stroke="#000" stroke-width="3"/><path d="M1610.3 1655V1764" stroke="#939393" stroke-width="3.9"/><path d="M1621.6 1092V1540" stroke="#000" stroke-width="3"/><path d="M1621.6 1540V1695" stroke="#939393" stroke-width="3.9"/><path d="M1621.6 1695V1764" stroke="#000" stroke-width="3"/><path d="M1692 1092V1128" stroke="#939393" stroke-width="3.9"/><path d="M1692 1128V1281" stroke="#000" stroke-width="3"/><path d="M1692 1281V1666" stroke="#939393" stroke-width="3.9"/><path d="M1692 1666V1765" stroke="#000" stroke-width="3"/></g><path d="M1230 1269.9L1382.5 1375.7L1456 1431L1525.2 1482L1620.5 1558.6" stroke="#000" stroke-width="4.0" stroke-linejoin="round"/><path d="M1232.8 1391.3L1382.5 1492L1456 1540.2L1493.4 1572.8L1525.2 1601L1582.8 1653.6L1620.5 1686.2" stroke="#000" stroke-width="4.0" stroke-linejoin="round"/><path d="M1506.2 1404L1479.5 1437" stroke="#000" stroke-width="2.2"/><path d="M1477.5 1440.5l2 -10 7 5.5z" fill="#000"/><path d="M1381.7 1585.5L1417 1533" stroke="#000" stroke-width="2.2"/><circle cx="1418" cy="1530" r="3.6" fill="#000"/><g filter="url(#bt)" fill="#111" stroke="#111" stroke-width="0.5"><text x="1063.5" y="1099" font-size="23" textLength="71.5" lengthAdjust="spacingAndGlyphs">10,000</text><text x="1075.4" y="1321" font-size="23" textLength="59.6" lengthAdjust="spacingAndGlyphs">1,000</text><text x="1094.7" y="1543.6" font-size="23" textLength="36.8" lengthAdjust="spacingAndGlyphs">100</text><text x="1106.6" y="1760.6" font-size="23" textLength="24.1" lengthAdjust="spacingAndGlyphs">10</text><text x="1123.6" y="1789.8" font-size="23" textLength="32.6" lengthAdjust="spacingAndGlyphs">1.0</text><text x="1197.3" y="1790" font-size="23" textLength="33.5" lengthAdjust="spacingAndGlyphs">2.0</text><text x="1295.2" y="1790.2" font-size="23" textLength="29.8" lengthAdjust="spacingAndGlyphs">5.0</text><text x="1370.3" y="1790.4" font-size="23" textLength="24.1" lengthAdjust="spacingAndGlyphs">10</text><text x="1439.8" y="1790.6" font-size="23" textLength="25.5" lengthAdjust="spacingAndGlyphs">20</text><text x="1534.6" y="1790.8" font-size="23" textLength="25.4" lengthAdjust="spacingAndGlyphs">50</text><text x="1601.2" y="1791" font-size="23" textLength="36.8" lengthAdjust="spacingAndGlyphs">100</text><text x="1667.9" y="1791.2" font-size="23" textLength="38.1" lengthAdjust="spacingAndGlyphs">200</text><text x="1191" y="1826.7" font-size="24" textLength="18" lengthAdjust="spacingAndGlyphs">V(</text><text x="1217" y="1826.8" font-size="16" textLength="25.7" lengthAdjust="spacingAndGlyphs">BR</text><text x="1248" y="1826.9" font-size="24" textLength="13" lengthAdjust="spacingAndGlyphs">),</text><text x="1271" y="1827.2" font-size="24" textLength="157" lengthAdjust="spacingAndGlyphs" stroke-width="0.95">BREAKDOWN</text><text x="1446.6" y="1828.2" font-size="24" textLength="119.2" lengthAdjust="spacingAndGlyphs">VOLTAGE,</text><text x="1575.7" y="1830.2" font-size="17" textLength="63" lengthAdjust="spacingAndGlyphs">VOLTS</text><text x="1053.5" y="1551.5" font-size="24" textLength="31.5" lengthAdjust="spacingAndGlyphs" transform="rotate(-89.3 1053.5 1551.5)">CJ,</text><text x="1054" y="1509" font-size="24" textLength="175.3" lengthAdjust="spacingAndGlyphs" transform="rotate(-89.3 1054 1509)">CAPACITANCE,</text><text x="1056.3" y="1321" font-size="24" textLength="25.6" lengthAdjust="spacingAndGlyphs" transform="rotate(-89.3 1056.3 1321)">pF</text></g><g filter="url(#bt)" fill="#111" stroke="#111" stroke-width="0.6"><text x="1418.3" y="1169" font-size="20" textLength="12" lengthAdjust="spacingAndGlyphs">T</text><text x="1430.5" y="1172" font-size="13" textLength="6.5" lengthAdjust="spacingAndGlyphs">J</text><text x="1438" y="1169" font-size="20" textLength="70" lengthAdjust="spacingAndGlyphs">= 25° C</text><text x="1418.3" y="1194.7" font-size="20" textLength="90.7" lengthAdjust="spacingAndGlyphs">f=1.0MHz</text><text x="1418.3" y="1220.2" font-size="20" textLength="141.7" lengthAdjust="spacingAndGlyphs">Vsig=50mVp-p</text><text x="1465" y="1369" font-size="20" textLength="117.8" lengthAdjust="spacingAndGlyphs">Measured at</text><text x="1465" y="1396" font-size="20" textLength="90.8" lengthAdjust="spacingAndGlyphs">Zero Bias</text><text x="1302.3" y="1621" font-size="20" textLength="113.4" lengthAdjust="spacingAndGlyphs">Measured at</text><text x="1302.3" y="1646.5" font-size="20" textLength="89.3" lengthAdjust="spacingAndGlyphs">Stand-Off</text><text x="1302.3" y="1672" font-size="20" textLength="84" lengthAdjust="spacingAndGlyphs">Voltage(V</text><text x="1391" y="1672" font-size="13" textLength="28" lengthAdjust="spacingAndGlyphs">MW</text><text x="1428" y="1672" font-size="20" textLength="8" lengthAdjust="spacingAndGlyphs">)</text></g></g></svg>
<!--/FIG4-->
</body>
</html>
